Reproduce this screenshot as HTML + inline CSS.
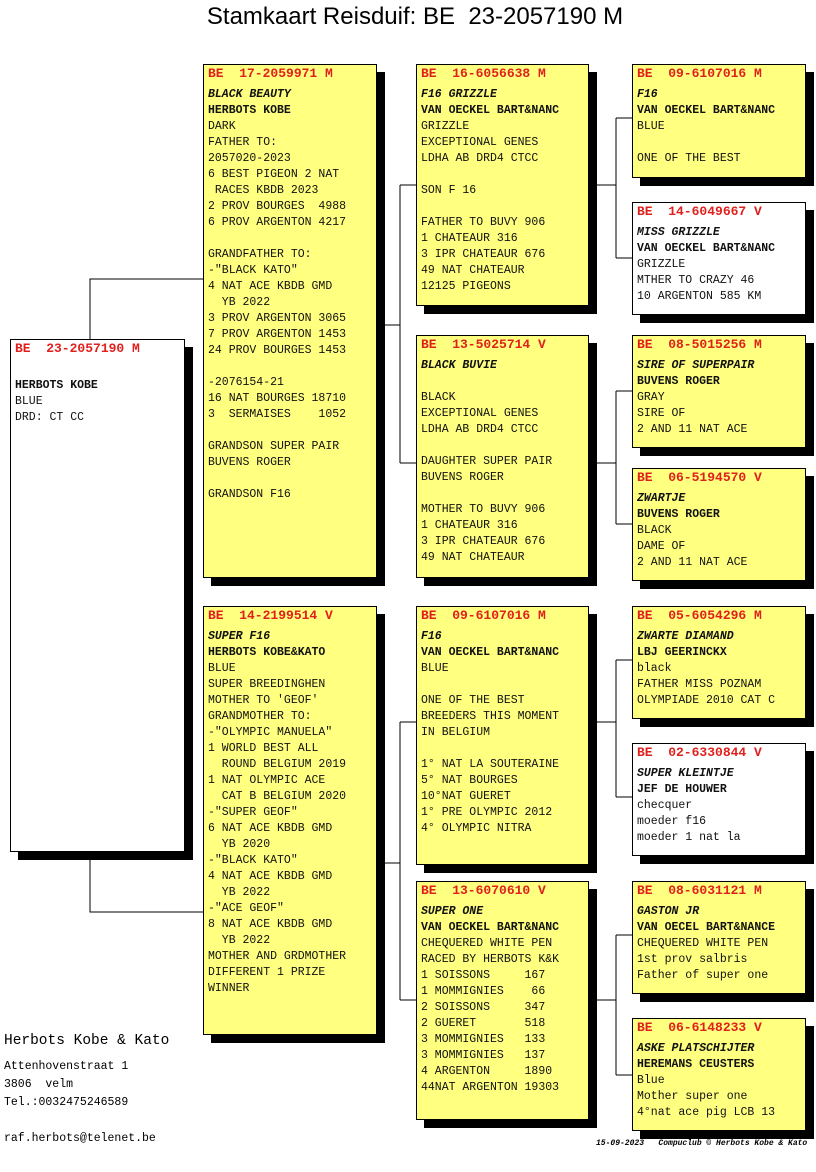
<!DOCTYPE html>
<html><head><meta charset="utf-8"><style>
body{margin:0;width:816px;height:1172px;background:#fff;position:relative;overflow:hidden;font-family:"Liberation Mono",monospace;}
.b{position:absolute;background:#ffff80;border:1px solid #000;box-shadow:8px 8px 0 #000;box-sizing:border-box;font-size:11.5px;line-height:16px;color:#111;padding:0 4px;white-space:pre;overflow:hidden}
.w{background:#fff}
.h{color:#e0201c;font-weight:bold;font-size:13px;height:16px;margin-top:1px;margin-bottom:5px}
.n{font-style:italic;font-weight:bold}
.o{font-weight:bold}
.t{position:absolute;left:0;width:830px;top:3px;text-align:center;font-family:"Liberation Sans",sans-serif;font-size:24px}
svg{position:absolute;left:0;top:0}
</style></head><body>
<div class="t">Stamkaart Reisduif: BE&nbsp; 23-2057190 M</div>
<svg width="816" height="1172"><g stroke="#000" stroke-width="1" fill="none">
<path d="M90 339V279H203M90 851V912H203"/>
<path d="M384 325H400M400 185V463M400 185H416M400 463H416"/>
<path d="M384 863H400M400 722V1000M400 722H416M400 1000H416"/>
<path d="M596 185H616M616 118V258M616 118H632M616 258H632"/>
<path d="M596 463H616M616 391V524M616 391H632M616 524H632"/>
<path d="M596 722H616M616 660V797M616 660H632M616 797H632"/>
<path d="M596 1000H616M616 935V1075M616 935H632M616 1075H632"/>
</g></svg>

<div class="b w" style="left:10px;top:339px;width:175px;height:513px"><div class="h">BE  23-2057190 M</div><div class="n"> </div><div class="o">HERBOTS KOBE</div>BLUE
DRD: CT CC</div>

<div class="b" style="left:203px;top:64px;width:174px;height:514px"><div class="h">BE  17-2059971 M</div><div class="n">BLACK BEAUTY</div><div class="o">HERBOTS KOBE</div>DARK
FATHER TO:
2057020-2023
6 BEST PIGEON 2 NAT
 RACES KBDB 2023
2 PROV BOURGES  4988
6 PROV ARGENTON 4217

GRANDFATHER TO:
-"BLACK KATO"
4 NAT ACE KBDB GMD
  YB 2022
3 PROV ARGENTON 3065
7 PROV ARGENTON 1453
24 PROV BOURGES 1453

-2076154-21
16 NAT BOURGES 18710
3  SERMAISES    1052

GRANDSON SUPER PAIR
BUVENS ROGER

GRANDSON F16</div>

<div class="b" style="left:203px;top:606px;width:174px;height:429px"><div class="h">BE  14-2199514 V</div><div class="n">SUPER F16</div><div class="o">HERBOTS KOBE&amp;KATO</div>BLUE
SUPER BREEDINGHEN
MOTHER TO 'GEOF'
GRANDMOTHER TO:
-"OLYMPIC MANUELA"
1 WORLD BEST ALL
  ROUND BELGIUM 2019
1 NAT OLYMPIC ACE
  CAT B BELGIUM 2020
-"SUPER GEOF"
6 NAT ACE KBDB GMD
  YB 2020
-"BLACK KATO"
4 NAT ACE KBDB GMD
  YB 2022
-"ACE GEOF"
8 NAT ACE KBDB GMD
  YB 2022
MOTHER AND GRDMOTHER
DIFFERENT 1 PRIZE
WINNER</div>

<div class="b" style="left:416px;top:64px;width:173px;height:242px"><div class="h">BE  16-6056638 M</div><div class="n">F16 GRIZZLE</div><div class="o">VAN OECKEL BART&amp;NANC</div>GRIZZLE
EXCEPTIONAL GENES
LDHA AB DRD4 CTCC

SON F 16

FATHER TO BUVY 906
1 CHATEAUR 316
3 IPR CHATEAUR 676
49 NAT CHATEAUR
12125 PIGEONS</div>

<div class="b" style="left:416px;top:335px;width:173px;height:243px"><div class="h">BE  13-5025714 V</div><div class="n">BLACK BUVIE</div><div class="o"> </div>BLACK
EXCEPTIONAL GENES
LDHA AB DRD4 CTCC

DAUGHTER SUPER PAIR
BUVENS ROGER

MOTHER TO BUVY 906
1 CHATEAUR 316
3 IPR CHATEAUR 676
49 NAT CHATEAUR</div>

<div class="b" style="left:416px;top:606px;width:173px;height:259px"><div class="h">BE  09-6107016 M</div><div class="n">F16</div><div class="o">VAN OECKEL BART&amp;NANC</div>BLUE

ONE OF THE BEST
BREEDERS THIS MOMENT
IN BELGIUM

1° NAT LA SOUTERAINE
5° NAT BOURGES
10°NAT GUERET
1° PRE OLYMPIC 2012
4° OLYMPIC NITRA</div>

<div class="b" style="left:416px;top:881px;width:173px;height:239px"><div class="h">BE  13-6070610 V</div><div class="n">SUPER ONE</div><div class="o">VAN OECKEL BART&amp;NANC</div>CHEQUERED WHITE PEN
RACED BY HERBOTS K&amp;K
1 SOISSONS     167
1 MOMMIGNIES    66
2 SOISSONS     347
2 GUERET       518
3 MOMMIGNIES   133
3 MOMMIGNIES   137
4 ARGENTON     1890
44NAT ARGENTON 19303</div>

<div class="b" style="left:632px;top:64px;width:174px;height:114px"><div class="h">BE  09-6107016 M</div><div class="n">F16</div><div class="o">VAN OECKEL BART&amp;NANC</div>BLUE

ONE OF THE BEST</div>

<div class="b w" style="left:632px;top:202px;width:174px;height:113px"><div class="h">BE  14-6049667 V</div><div class="n">MISS GRIZZLE</div><div class="o">VAN OECKEL BART&amp;NANC</div>GRIZZLE
MTHER TO CRAZY 46
10 ARGENTON 585 KM</div>

<div class="b" style="left:632px;top:335px;width:174px;height:113px"><div class="h">BE  08-5015256 M</div><div class="n">SIRE OF SUPERPAIR</div><div class="o">BUVENS ROGER</div>GRAY
SIRE OF
2 AND 11 NAT ACE</div>

<div class="b" style="left:632px;top:468px;width:174px;height:113px"><div class="h">BE  06-5194570 V</div><div class="n">ZWARTJE</div><div class="o">BUVENS ROGER</div>BLACK
DAME OF
2 AND 11 NAT ACE</div>

<div class="b" style="left:632px;top:606px;width:174px;height:113px"><div class="h">BE  05-6054296 M</div><div class="n">ZWARTE DIAMAND</div><div class="o">LBJ GEERINCKX</div>black
FATHER MISS POZNAM
OLYMPIADE 2010 CAT C</div>

<div class="b w" style="left:632px;top:743px;width:174px;height:113px"><div class="h">BE  02-6330844 V</div><div class="n">SUPER KLEINTJE</div><div class="o">JEF DE HOUWER</div>checquer
moeder f16
moeder 1 nat la</div>

<div class="b" style="left:632px;top:881px;width:174px;height:113px"><div class="h">BE  08-6031121 M</div><div class="n">GASTON JR</div><div class="o">VAN OECEL BART&amp;NANCE</div>CHEQUERED WHITE PEN
1st prov salbris
Father of super one</div>

<div class="b" style="left:632px;top:1018px;width:174px;height:113px"><div class="h">BE  06-6148233 V</div><div class="n">ASKE PLATSCHIJTER</div><div class="o">HEREMANS CEUSTERS</div>Blue
Mother super one
4°nat ace pig LCB 13</div>

<div style="position:absolute;left:4px;top:1033px;font-size:14.5px;white-space:pre">Herbots Kobe &amp; Kato</div>
<div style="position:absolute;left:4px;top:1058px;font-size:11.5px;line-height:18px;white-space:pre">Attenhovenstraat 1
3806  velm
Tel.:0032475246589

raf.herbots@telenet.be</div>
<div style="position:absolute;left:596px;top:1139px;font-size:8px;font-style:italic;font-weight:bold;white-space:pre">15-09-2023   Compuclub © Herbots Kobe &amp; Kato</div>
</body></html>
